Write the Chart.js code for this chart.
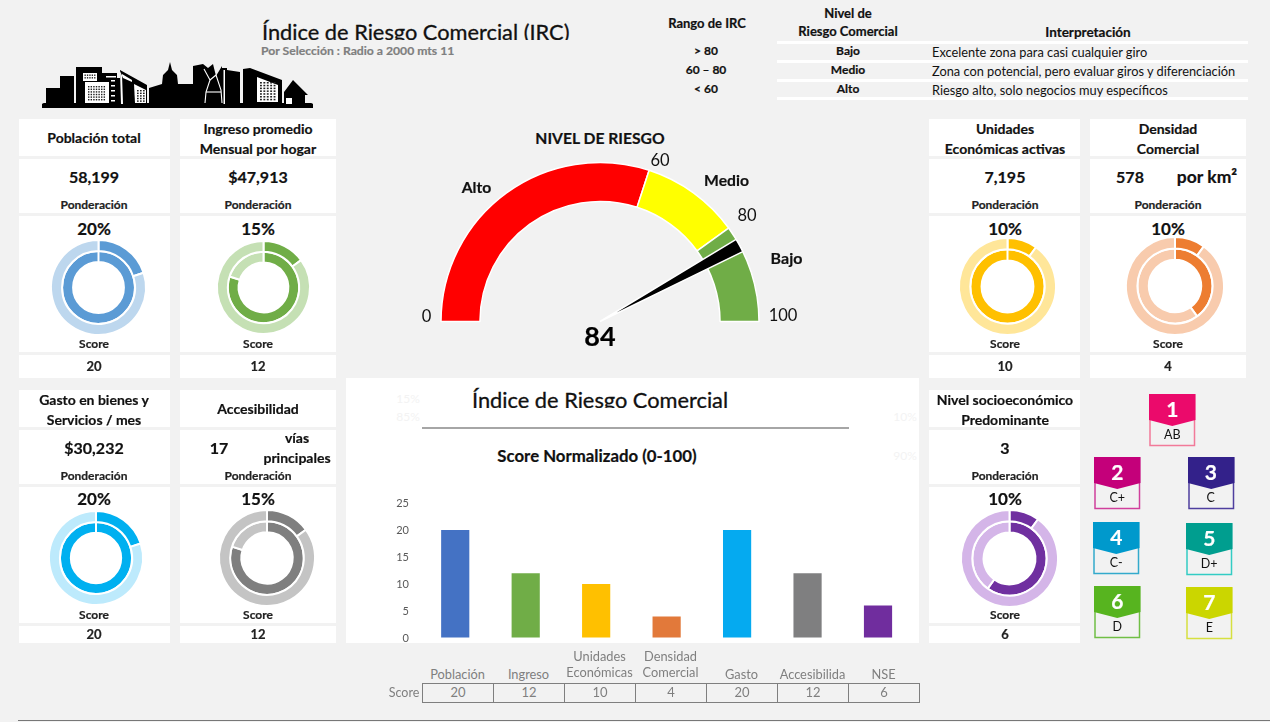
<!DOCTYPE html>
<html>
<head>
<meta charset="utf-8">
<title>Índice de Riesgo Comercial</title>
<script src="https://cdn.jsdelivr.net/npm/chart.js@4/dist/chart.umd.min.js"></script>
<style>
    html, body { margin: 0; padding: 0; }
    body { width: 1270px; height: 722px; background: #f2f2f2; overflow: hidden; position: relative; font-family: Lato, "Open Sans", sans-serif; color: #111; }
    .box { position: absolute; background: #fff; }
    .linea { position: absolute; background: #fff; }
    .txt { position: absolute; white-space: nowrap; line-height: 1; }
    canvas { position: absolute; }
    .recorte { position: absolute; overflow: hidden; }
    .celda { position: absolute; border: 1px solid #7f7f7f; box-sizing: border-box; text-align: center; color: #7f7f7f; font-size: 13px; line-height: 17px; }
</style>
</head>
<body>

<!-- logo, silueta de la ciudad -->
<svg id="logo" style="position:absolute;left:0;top:0" width="330" height="115">
    <path fill="#000" d="M42 108 L42 104 L46 104 L46 88 L60 88 L60 76 L74 76 L74 104 L76 104 L76 67 L102 67 L102 73 L117 73 L117 78 L120 78 L120 70 L147 85 L147 104 L149 104 L149 88 L162 84 L163 75 L168 70 L170 62 L172 70 L177 75 L178 84 L193 84 L193 66 L203 64 L208 68 L213 64 L216 76 L222 66 L222 68 L227 68 L227 70 L240 72 L240 104 L243 104 L243 69 L250 68 L282 80 L282 104 L284 104 L284 92 L293 80 L308 95 L305 95 L305 104 L313 104 L313 108 Z"/>
    <rect x="42" y="103" width="271" height="5" rx="2" fill="#000"/>
    <g fill="#fff">
        <rect x="83" y="73" width="14" height="8"/>
        <rect x="85" y="82" width="24" height="21"/>
        <rect x="106" y="76" width="10" height="1.5"/>
        <rect x="111" y="80" width="4" height="1.5"/>
        <rect x="111" y="85" width="4" height="1.5"/>
        <rect x="111" y="90" width="4" height="1.5"/>
        <rect x="111" y="95" width="4" height="1.5"/>
        <rect x="111" y="100" width="4" height="1.5"/>
        <path d="M120 71 L121 104 L123 104 L122 74 L132 80 L132 82 L123 78 Z"/>
        <path d="M134 84 L146 90 L146 103 L135 103 Z"/>
        <rect x="223.5" y="70" width="1.5" height="34"/>
        <path d="M257 77 L278 85 L278 102 L257 102 Z"/>
        <rect x="286" y="98" width="6" height="6"/>
    </g>
    <g fill="none" stroke="#fff" stroke-width="1.1">
        <polyline points="204,69 210,80 206,92 205,103"/>
        <polyline points="210,80 216,75 221,90 222,103"/>
        <polyline points="206,92 221,92"/>
    </g>
    <g id="ventanas"></g>
</svg>

<script>
// datos de las tarjetas
const titulos = [['Población total'], ['Ingreso promedio', 'Mensual por hogar'], ['Unidades', 'Económicas activas'], ['Densidad', 'Comercial'], ['Gasto en bienes y', 'Servicios / mes'], ['Accesibilidad'], ['Nivel socioeconómico', 'Predominante']];
const valores = ['58,199', '$47,913', '7,195', '578', '$30,232', '17', '3'];
const ponderacion = [20, 15, 10, 10, 20, 15, 10];
const scores = [20, 12, 10, 4, 20, 12, 6];
const coloresFuertes = ['#5b9bd5', '#70ad47', '#ffc000', '#ed7d31', '#00b0f0', '#7f7f7f', '#7030a0'];
const coloresClaros = ['#bdd7ee', '#c5e0b4', '#ffe699', '#f8cbad', '#bdeafc', '#c4c4c4', '#d4b5e8'];

// grafico de barras
const categorias = ['Población', 'Ingreso', 'Unidades Económicas', 'Densidad Comercial', 'Gasto', 'Accesibilida', 'NSE'];
const coloresBarras = ['#4472c4', '#70ad47', '#ffc000', '#e2793a', '#05aaf0', '#7f7f80', '#702d9e'];

// velocimetro
const gaugeValores = [60, 20, 20];
const gaugeColores = ['#ff0000', '#ffff00', '#70ad47'];
const agujaValores = [82.7, 2.8, 14.5];
const indice = 84;

// tabla de rangos
const rangos = ['> 80', '60 – 80', '< 60'];
const niveles = ['Bajo', 'Medio', 'Alto'];
const interpretacion = ['Excelente zona para casi cualquier giro', 'Zona con potencial, pero evaluar giros y diferenciación', 'Riesgo alto, solo negocios muy específicos'];

// niveles socioeconomicos
const nseNumeros = ['1', '2', '3', '4', '5', '6', '7'];
const nseEtiquetas = ['AB', 'C+', 'C', 'C-', 'D+', 'D', 'E'];
const nseColores = ['#eb0a6b', '#c4007a', '#33218a', '#0099cc', '#009e8f', '#57b41f', '#cbd600'];
const nseBordes = ['#f27a99', '#d0409c', '#4f3f9f', '#33aacc', '#33ccc4', '#70bf45', '#d6e040'];

Chart.defaults.animation = false;
Chart.defaults.responsive = false;
Chart.defaults.plugins.legend.display = false;
Chart.defaults.plugins.tooltip.enabled = false;

function caja(x, y, w, h) {
    const d = document.createElement('div');
    d.className = 'box';
    d.style.cssText = 'left:' + x + 'px;top:' + y + 'px;width:' + w + 'px;height:' + h + 'px';
    document.body.appendChild(d);
    return d;
}

// texto centrado en x,y
function texto(x, y, str, size, bold, color, ancho, parent) {
    const d = document.createElement('div');
    d.className = 'txt';
    d.textContent = str;
    d.style.left = x + 'px';
    d.style.top = y + 'px';
    d.style.fontSize = size + 'px';
    if (bold) {
        d.style.fontWeight = 'bold';
        d.style.webkitTextStroke = '0.2px';
    }
    if (color) d.style.color = color;
    d.style.transform = ancho === 'left' ? 'translateY(-50%)' : 'translate(-50%,-50%)';
    (parent || document.body).appendChild(d);
    return d;
}

function lienzo(x, y, w, h) {
    const c = document.createElement('canvas');
    c.width = w;
    c.height = h;
    c.style.left = x + 'px';
    c.style.top = y + 'px';
    document.body.appendChild(c);
    return c;
}

function dona(cx, cy, r, i) {
    const lado = 2 * r + 10;
    new Chart(lienzo(cx - lado / 2, cy - lado / 2, lado, lado), {
        type: 'doughnut',
        data: {
            datasets: [
                { data: [ponderacion[i], 100 - ponderacion[i]], backgroundColor: [coloresFuertes[i], coloresClaros[i]], borderColor: '#fff', borderWidth: 2 },
                { data: [scores[i], ponderacion[i] - scores[i]], backgroundColor: [coloresFuertes[i], coloresClaros[i]], borderColor: '#fff', borderWidth: 2 }
            ]
        },
        options: { radius: r, cutout: '53.5%' }
    });
}

// puntos de las ventanas del logo
function ventanas(x0, y0, cols, filas, dx, dy) {
    const g = document.getElementById('ventanas');
    for (let f = 0; f < filas; f++) {
        for (let c = 0; c < cols; c++) {
            const r = document.createElementNS('http://www.w3.org/2000/svg', 'rect');
            r.setAttribute('x', x0 + c * dx);
            r.setAttribute('y', y0 + f * dy);
            r.setAttribute('width', dx * 0.55);
            r.setAttribute('height', dy * 0.55);
            r.setAttribute('fill', '#222');
            g.appendChild(r);
        }
    }
}
ventanas(84.5, 74.5, 5, 2, 2.4, 2.6);
ventanas(88, 86, 7, 6, 2.6, 2.6);
ventanas(137, 90, 3, 5, 3, 2.6);
ventanas(260, 82, 5, 7, 3.4, 2.8);

// x, ancho, y del titulo, centro de la dona y radio
const tarjetas = [
    { x: 19, w: 151, y: 119, cx: 98.3, cy: 287, r: 47.5, tx: 94 },
    { x: 180, w: 156, y: 119, cx: 263.3, cy: 287, r: 46.5, tx: 258 },
    { x: 929, w: 151, y: 119, cx: 1007, cy: 286, r: 48.5, tx: 1005 },
    { x: 1090, w: 156, y: 119, cx: 1175, cy: 286.3, r: 49, tx: 1168 },
    { x: 19, w: 151, y: 390, cx: 96, cy: 557.7, r: 47, tx: 94 },
    { x: 180, w: 156, y: 390, cx: 266.7, cy: 557.7, r: 48, tx: 258 },
    { x: 929, w: 151, y: 390, cx: 1009, cy: 558.7, r: 48.5, tx: 1005 }
];

tarjetas.forEach(function (t, i) {
    const abajo = t.y > 300;
    caja(t.x, t.y, t.w, 37);
    caja(t.x, t.y + 40, t.w, 54);
    caja(t.x, t.y + 97, t.w, 136);
    caja(t.x, t.y + 236, t.w, abajo ? 17 : 23);

    if (titulos[i].length === 1) {
        texto(t.tx, t.y + 18.5, titulos[i][0], 14, true);
    } else {
        texto(t.tx, t.y + 9.5, titulos[i][0], 14, true);
        texto(t.tx, t.y + 29.5, titulos[i][1], 14, true);
    }

    let vx = t.tx;
    if (i === 3) vx = 1130;
    if (i === 5) vx = 219;
    texto(vx, t.y + 58, valores[i], 16, true);
    texto(t.tx, t.y + 86, 'Ponderación', 12, true, '#222');
    texto(t.tx, t.y + (abajo ? 108 : 109), ponderacion[i] + '%', 17, true);
    dona(t.cx, t.cy, t.r, i);
    texto(t.tx, t.y + 225, 'Score', 12, true, '#222');
    texto(t.tx, t.y + (abajo ? 244 : 247), String(scores[i]), 13, true, '#222');
});

// textos extra de valor
texto(1207, 177, 'por km²', 17.5, true);
texto(297, 438, 'vías', 14, true);
texto(297, 458, 'principales', 14, true);

// encabezado
const rec1 = document.createElement('div');
rec1.className = 'recorte';
rec1.style.cssText = 'left:262px;top:14px;width:320px;height:26px';
document.body.appendChild(rec1);
const tit1 = texto(0, 18, 'Índice de Riesgo Comercial (IRC)', 21.8, false, '#111', 'left', rec1);
tit1.style.webkitTextStroke = '0.3px';
texto(261, 51, 'Por Selección : Radio a 2000 mts 11', 12.2, true, '#7f7f7f', 'left');

texto(707, 23, 'Rango de IRC', 13, true);
texto(848, 13, 'Nivel de', 13, true);
texto(848, 30.5, 'Riesgo Comercial', 13, true);
texto(1088, 32.5, 'Interpretación', 13.5, true);
[42, 61, 80, 98].forEach(function (y) {
    const l = caja(777, y - 1.5, 471, 3);
    l.className = 'linea';
});
rangos.forEach(function (r, i) {
    texto(706, 51 + i * 19, r, 12, true);
    texto(848, 51 + i * 19, niveles[i], 12, true);
    texto(932, 52 + i * 19, interpretacion[i], 12.8, false, '#111', 'left');
});

// velocimetro
texto(600, 138.5, 'NIVEL DE RIESGO', 15.7, true);
const gaugeR = 159;
new Chart(lienzo(430, 157, 340, 170), {
    type: 'doughnut',
    data: { datasets: [{ data: gaugeValores, backgroundColor: gaugeColores, borderColor: '#fff', borderWidth: 1.5 }] },
    options: { rotation: -90, circumference: 180, radius: gaugeR, cutout: '75.5%' }
});
new Chart(lienzo(430, 157, 340, 170), {
    type: 'pie',
    data: { datasets: [{ data: agujaValores, backgroundColor: ['transparent', '#000', 'transparent'], borderColor: ['transparent', '#fff', 'transparent'], borderWidth: 1.5 }] },
    options: { rotation: -90, circumference: 180, radius: gaugeR }
});
texto(660, 159.5, '60', 16.5);
texto(747, 215, '80', 16.5);
texto(783, 315, '100', 16.5);
texto(426.5, 316, '0', 16.5);
texto(476.5, 188, 'Alto', 15.7, true);
texto(726.5, 181, 'Medio', 15.7, true);
texto(786.5, 258, 'Bajo', 16, true);
texto(600, 335, String(indice), 27, true, '#000');

// panel del grafico de barras
caja(346, 378, 573, 265);
['15%', '85%'].forEach(function (s, i) { texto(408, 399 + i * 18, s, 12, false, '#f3f3f3'); });
texto(905, 417, '10%', 12, false, '#f3f3f3');
texto(905, 456, '90%', 12, false, '#f3f3f3');

const rec2 = document.createElement('div');
rec2.className = 'recorte';
rec2.style.cssText = 'left:472px;top:386px;width:270px;height:22px';
document.body.appendChild(rec2);
const tit2 = texto(0, 14, 'Índice de Riesgo Comercial', 21.8, false, '#111', 'left', rec2);
tit2.style.webkitTextStroke = '0.3px';

const raya = caja(422, 427, 427, 2);
raya.style.background = '#a6a6a6';
texto(597, 455.5, 'Score Normalizado (0-100)', 16.8, true);

new Chart(lienzo(346, 490, 574, 160), {
    type: 'bar',
    data: {
        labels: categorias,
        datasets: [{ data: scores, backgroundColor: coloresBarras, categoryPercentage: 1, barPercentage: 0.4 }]
    },
    options: {
        layout: { padding: { top: 13, right: 6.75, bottom: 12, left: 0 } },
        scales: {
            x: { display: false },
            y: {
                min: 0, max: 25,
                afterFit: function (scale) { scale.width = 74; },
                grid: { drawOnChartArea: false, tickLength: 11, tickColor: 'transparent' },
                border: { display: false },
                ticks: { stepSize: 5, padding: 0, color: '#595959', font: { family: 'Lato', size: 11 } }
            }
        }
    }
});

// tabla bajo el grafico
const columnaX = 422;
const columnaW = 71;
categorias.forEach(function (c, i) {
    const centro = columnaX + columnaW * (i + 0.5);
    const partes = c.split(' ');
    if (partes.length === 2) {
        texto(centro, 656, partes[0], 12.8, false, '#7f7f7f');
        texto(centro, 672, partes[1], 12.8, false, '#7f7f7f');
    } else {
        texto(centro, 674, c, 12.8, false, '#7f7f7f');
    }
    const d = document.createElement('div');
    d.className = 'celda';
    d.style.cssText = 'left:' + (columnaX + columnaW * i) + 'px;top:683px;width:' + (columnaW + 1) + 'px;height:20px';
    d.textContent = scores[i];
    document.body.appendChild(d);
});
texto(404, 693, 'Score', 12.5, false, '#7f7f7f');

// linea inferior
const pie = caja(18, 720, 1252, 1);
pie.style.background = '#777';

// etiquetas de nivel socioeconomico
const nseCajas = [[1149, 394], [1094, 457], [1187.5, 457], [1093, 522], [1186, 523], [1094, 586], [1186, 587]];
nseCajas.forEach(function (p, i) {
    const w = 46.5, h = 51.5, alto = 26, punta = 32;
    const ns = 'http://www.w3.org/2000/svg';
    const s = document.createElementNS(ns, 'svg');
    s.setAttribute('width', w + 2);
    s.setAttribute('height', h + 2);
    s.style.cssText = 'position:absolute;left:' + p[0] + 'px;top:' + p[1] + 'px';
    const marco = document.createElementNS(ns, 'rect');
    marco.setAttribute('x', 1);
    marco.setAttribute('y', 1);
    marco.setAttribute('width', w - 2);
    marco.setAttribute('height', h - 1);
    marco.setAttribute('fill', 'none');
    marco.setAttribute('stroke', nseBordes[i]);
    marco.setAttribute('stroke-width', 1.5);
    s.appendChild(marco);
    const cab = document.createElementNS(ns, 'polygon');
    cab.setAttribute('points', '0,0 ' + w + ',0 ' + w + ',' + alto + ' ' + (w / 2) + ',' + punta + ' 0,' + alto);
    cab.setAttribute('fill', nseColores[i]);
    s.appendChild(cab);
    document.body.appendChild(s);
    texto(p[0] + w / 2, p[1] + 14, nseNumeros[i], 21, true, '#fff');
    texto(p[0] + w / 2, p[1] + 41, nseEtiquetas[i], 12.5, false, '#111');
});
</script>
</body>
</html>
